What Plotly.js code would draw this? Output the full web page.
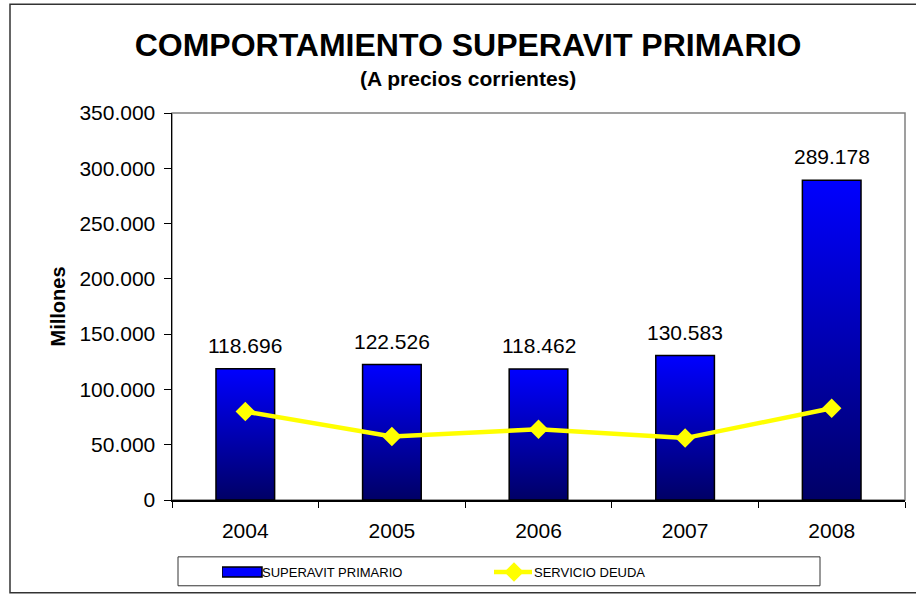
<!DOCTYPE html>
<html>
<head>
<meta charset="utf-8">
<script src="https://cdn.plot.ly/plotly-3.0.1.min.js"></script>
<style>
html,body{margin:0;padding:0;background:#fff;}
#chart{width:916px;height:597px;}
</style>
</head>
<body>
<div id="chart"></div>
<script>
// ---- data ----
const years = ['2004', '2005', '2006', '2007', '2008'];
const superavitPrimario = [118696, 122526, 118462, 130583, 289178];
const servicioDeuda = [80000, 57500, 64000, 56000, 83000];
const yTickVals = [0, 50000, 100000, 150000, 200000, 250000, 300000, 350000];

const FONT = 'Arial, "Liberation Sans", sans-serif';

// plot area in pixels
const W = 916, H = 597;
const L = 172, R = 905, T = 113, B = 501;
const px = x => (x - L) / (R - L);
const py = y => (B - y) / (B - T);

function fmt(v) {
  return String(v).replace(/\B(?=(\d{3})+(?!\d))/g, '.');
}

const traces = [
  {
    type: 'bar',
    name: 'SUPERAVIT PRIMARIO',
    x: years,
    y: superavitPrimario,
    width: 0.4,
    marker: { color: '#0000FF', line: { color: '#000000', width: 1.5 } },
    hoverinfo: 'skip'
  },
  {
    type: 'scatter',
    mode: 'lines+markers',
    name: 'SERVICIO DEUDA',
    x: years,
    y: servicioDeuda,
    line: { color: '#FFFF00', width: 4.5 },
    marker: { symbol: 'diamond', size: 15, color: '#FFFF00' },
    hoverinfo: 'skip'
  }
];

// category index positions for annotations (avoid numeric interpretation of '2004')
const labelAnnotations = years.map((yr, i) => ({
  x: i, y: superavitPrimario[i], xref: 'x', yref: 'y',
  text: fmt(superavitPrimario[i]),
  showarrow: false, yanchor: 'bottom', yshift: 10,
  font: { family: FONT, size: 21, color: '#000' }
}));

const layout = {
  width: W, height: H,
  margin: { l: L, r: W - R, t: T, b: H - B, pad: 0 },
  paper_bgcolor: '#fff',
  plot_bgcolor: '#fff',
  separators: ',.',
  showlegend: true,
  font: { family: FONT, color: '#000' },
  title: {
    text: '<b>COMPORTAMIENTO SUPERAVIT PRIMARIO</b>',
    font: { family: FONT, size: 32, color: '#000' },
    x: 468 / W, xanchor: 'center',
    y: 1 - 45 / H, yanchor: 'middle', yref: 'container'
  },
  xaxis: {
    type: 'category',
    categoryarray: years, categoryorder: 'array',
    range: [-0.5, years.length - 0.5], autorange: false,
    showline: true, linecolor: '#000', linewidth: 1.5,
    ticks: 'outside', ticklen: 6, tickcolor: '#000', tickwidth: 1,
    tickson: 'boundaries', tickangle: 0,
    ticklabelstandoff: 11,
    showgrid: false, zeroline: false,
    tickfont: { family: FONT, size: 21, color: '#000' }
  },
  yaxis: {
    range: [0, 350000], autorange: false,
    tickvals: yTickVals,
    tickformat: ',d',
    showline: true, linecolor: '#000', linewidth: 1.5,
    ticks: 'outside', ticklen: 7, tickcolor: '#000', tickwidth: 1,
    ticklabelstandoff: 4,
    showgrid: false, zeroline: false,
    tickfont: { family: FONT, size: 21, color: '#000' }
  },
  legend: {
    orientation: 'h',
    x: px(222), xanchor: 'left',
    y: py(572), yanchor: 'middle',
    entrywidth: 227, entrywidthmode: 'pixels',
    bgcolor: 'rgba(0,0,0,0)',
    borderwidth: 0,
    font: { family: FONT, size: 13, color: '#000' },
    traceorder: 'normal'
  },
  shapes: [
    // plot area frame (gray)
    { type: 'rect', xref: 'paper', yref: 'paper', x0: 0, x1: 1, y0: 0, y1: 1,
      line: { color: '#808080', width: 1.5 }, layer: 'below' },
    // outer chart border
    { type: 'rect', xref: 'paper', yref: 'paper',
      x0: px(10), x1: px(925), y0: py(594), y1: py(4),
      line: { color: '#333333', width: 1.5 } },
    // legend box
    { type: 'rect', xref: 'paper', yref: 'paper',
      x0: px(178), x1: px(820), y0: py(587), y1: py(558),
      line: { color: '#333333', width: 1 } }
  ],
  annotations: [
    {
      text: '<b>(A precios corrientes)</b>',
      xref: 'paper', yref: 'paper', x: px(468), y: py(78),
      xanchor: 'center', yanchor: 'middle', showarrow: false,
      font: { family: FONT, size: 21, color: '#000' }
    },
    {
      text: '<b>Millones</b>',
      xref: 'paper', yref: 'paper', x: px(57), y: py(307),
      xanchor: 'center', yanchor: 'middle', showarrow: false, textangle: -90,
      font: { family: FONT, size: 20, color: '#000' }
    }
  ].concat(labelAnnotations)
};

Plotly.newPlot('chart', traces, layout, { displayModeBar: false, staticPlot: true }).then(gd => {
  const svg = gd.querySelector('.main-svg');
  const ns = 'http://www.w3.org/2000/svg';
  let defs = svg.querySelector('defs');
  if (!defs) { defs = document.createElementNS(ns, 'defs'); svg.insertBefore(defs, svg.firstChild); }
  const grad = document.createElementNS(ns, 'linearGradient');
  grad.setAttribute('id', 'barGrad');
  grad.setAttribute('x1', '0'); grad.setAttribute('y1', '0');
  grad.setAttribute('x2', '0'); grad.setAttribute('y2', '1');
  [['0', '#0000FF'], ['1', '#000066']].forEach(([o, c]) => {
    const s = document.createElementNS(ns, 'stop');
    s.setAttribute('offset', o); s.setAttribute('stop-color', c);
    grad.appendChild(s);
  });
  defs.appendChild(grad);
  gd.querySelectorAll('.barlayer .point path').forEach(p => { p.style.fill = 'url(#barGrad)'; });
  // wide legend swatch for bars (solid blue with black outline)
  gd.querySelectorAll('.legend .legendpoints path.legendundefined, .legend .legendpoints .legendbar path').forEach(p => {
    p.setAttribute('d', 'M20,5H-20V-5H20Z');
    p.style.fill = '#0000FF';
    p.style.stroke = '#000000';
    p.style.strokeWidth = '1.5px';
  });
  gd.querySelectorAll('.legend .legendlines path').forEach(p => {
    p.setAttribute('d', 'M0,0h38');
  });
});
</script>
</body>
</html>
